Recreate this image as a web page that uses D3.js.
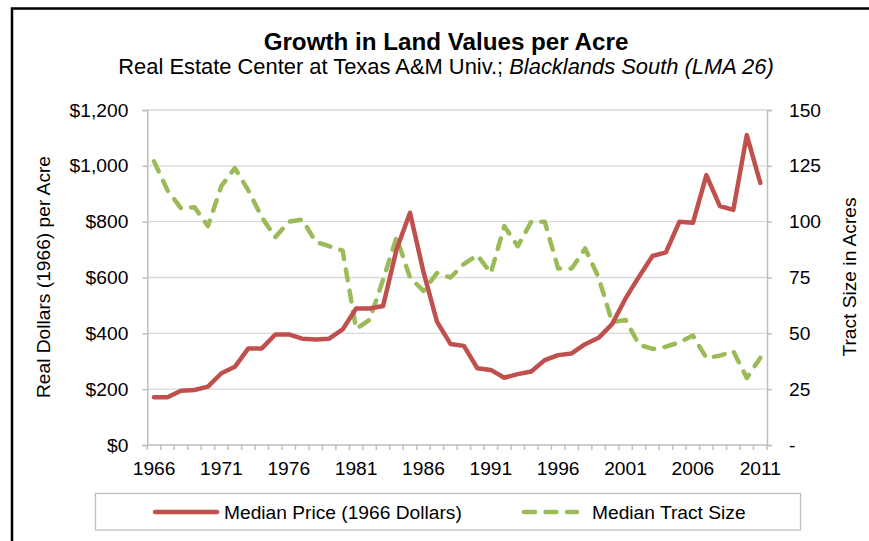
<!DOCTYPE html>
<html>
<head>
<meta charset="utf-8">
<script src="https://cdn.jsdelivr.net/npm/d3@7"></script>
<style>
  body { margin: 0; background: #fff; }
  svg text { font-family: "Liberation Sans", Arial, sans-serif; fill: #000; }
</style>
</head>
<body>
<div id="app"></div>
<script>
// values
const years = d3.range(1966, 2012);
const price = [171, 171, 194, 197, 209, 257, 280, 346, 346, 396,
               396, 381, 378, 381, 414, 489, 489, 498, 700, 832,
               620, 442, 362, 355, 275, 269, 241, 254, 263, 304,
               322, 328, 361, 384, 433, 525, 603, 677, 690, 800,
               796, 967, 856, 842, 1110, 939];
const tract = [127, 114, 106, 106.5, 98, 116, 124, 114, 102, 93,
               100, 101, 91, 89, 87, 52, 56, 74, 93, 75,
               69, 77, 75, 81, 85, 77, 98, 89, 100, 100,
               79, 79, 88, 75, 55, 56, 45, 43, 44, 46,
               49, 39, 40, 42, 30, 39];
const yearLabels = [1966, 1971, 1976, 1981, 1986, 1991, 1996, 2001, 2006, 2011];
const priceTicks = [0, 200, 400, 600, 800, 1000, 1200];
const tractTicks = [0, 25, 50, 75, 100, 125, 150];
const seriesNames = ["Median Price (1966 Dollars)", "Median Tract Size"];

const W = 869, H = 541;
const red = "#c0504d", green = "#9bbb59";
const fs = 19.2;

var margin = {top: 110, right: 102, bottom: 96, left: 147.3},
    width = W - margin.left - margin.right,
    height = H - margin.top - margin.bottom;

var x = d3.scaleBand().domain(years).range([0, width]).padding(0);
var yL = d3.scaleLinear().domain([0, 1200]).range([height, 0]);
var yR = d3.scaleLinear().domain([0, 150]).range([height, 0]);
var cx = d => x(d) + x.bandwidth() / 2;

var svg = d3.select("#app").append("svg")
    .attr("width", W)
    .attr("height", H);

// outer frame (only top and left edges show)
svg.append("path")
    .attr("d", "M12,541 L12,8.5 L869,8.5")
    .attr("fill", "none")
    .attr("stroke", "#000")
    .attr("stroke-width", 2.5);

svg.append("text")
    .attr("x", 446).attr("y", 50)
    .attr("text-anchor", "middle")
    .style("font-size", "24.2px").style("font-weight", "bold")
    .text("Growth in Land Values per Acre");

var sub = svg.append("text")
    .attr("x", 446).attr("y", 74)
    .attr("text-anchor", "middle")
    .style("font-size", "21.9px");
sub.append("tspan").text("Real Estate Center at Texas A&M Univ.; ");
sub.append("tspan").style("font-style", "italic").text("Blacklands South (LMA 26)");

var g = svg.append("g")
    .attr("transform", "translate(" + margin.left + "," + margin.top + ")");

// gridlines
g.append("g")
    .selectAll("line")
    .data(priceTicks.slice(1))
    .join("line")
    .attr("x1", 0).attr("x2", width)
    .attr("y1", d => yL(d)).attr("y2", d => yL(d))
    .attr("stroke", "#d9d9d9")
    .attr("stroke-width", 1.3);

// left axis
var axL = g.append("g")
    .call(d3.axisLeft(yL).tickValues(priceTicks).tickFormat(d3.format("$,")).tickSize(5).tickPadding(14));
axL.selectAll("text").style("font-size", fs + "px");

// right axis
var axR = g.append("g")
    .attr("transform", "translate(" + width + ",0)")
    .call(d3.axisRight(yR).tickValues(tractTicks).tickFormat(d => d === 0 ? "-" : d).tickSize(5).tickPadding(17));
axR.selectAll("text").style("font-size", fs + "px");

// bottom axis: ticks on band edges, labels every 5 years
var edges = years.map(d => x(d)).concat([width]);
var axB = g.append("g").attr("transform", "translate(0," + height + ")");
axB.append("line").attr("x1", 0).attr("x2", width);
axB.selectAll(".edge").data(edges).join("line")
    .attr("class", "edge")
    .attr("x1", d => d).attr("x2", d => d)
    .attr("y1", 0).attr("y2", 5);
axB.selectAll("text").data(yearLabels).join("text")
    .attr("x", d => cx(d))
    .attr("y", 30)
    .attr("text-anchor", "middle")
    .style("font-size", fs + "px")
    .text(d => d);

g.selectAll(".domain, .tick line")
    .attr("stroke", "#bfbfbf")
    .attr("stroke-width", 1.5);
axB.selectAll("line").attr("stroke", "#bfbfbf").attr("stroke-width", 1.5);

// axis titles
svg.append("text")
    .attr("transform", "translate(50,277) rotate(-90)")
    .attr("text-anchor", "middle")
    .style("font-size", fs + "px")
    .text("Real Dollars (1966) per Acre");
svg.append("text")
    .attr("transform", "translate(856,277) rotate(-90)")
    .attr("text-anchor", "middle")
    .style("font-size", fs + "px")
    .text("Tract Size in Acres");

// series
var lineL = d3.line().x((d, i) => cx(years[i])).y(d => yL(d));
var lineR = d3.line().x((d, i) => cx(years[i])).y(d => yR(d));

g.append("path")
    .datum(tract)
    .attr("d", lineR)
    .attr("fill", "none")
    .attr("stroke", green)
    .attr("stroke-width", 4.5)
    .attr("stroke-linecap", "round")
    .attr("stroke-linejoin", "round")
    .attr("stroke-dasharray", "11 10.5");

g.append("path")
    .datum(price)
    .attr("d", lineL)
    .attr("fill", "none")
    .attr("stroke", red)
    .attr("stroke-width", 4.5)
    .attr("stroke-linejoin", "round")
    .attr("stroke-linecap", "round");

// legend
var leg = svg.append("g");
leg.append("rect")
    .attr("x", 95.5).attr("y", 493.5)
    .attr("width", 705).attr("height", 36.5)
    .attr("fill", "#fff")
    .attr("stroke", "#bfbfbf")
    .attr("stroke-width", 1.3);
var items = [
  {name: seriesNames[0], color: red, x0: 155, x1: 217, tx: 224, dash: null},
  {name: seriesNames[1], color: green, x0: 524, x1: 577, tx: 592, dash: "11 10.5"}
];
items.forEach(it => {
  leg.append("line")
      .attr("x1", it.x0).attr("x2", it.x1)
      .attr("y1", 512).attr("y2", 512)
      .attr("stroke", it.color)
      .attr("stroke-width", 4.5)
      .attr("stroke-linecap", "round")
      .attr("stroke-dasharray", it.dash);
  leg.append("text")
      .attr("x", it.tx).attr("y", 519)
      .style("font-size", fs + "px")
      .text(it.name);
});
</script>
</body>
</html>
